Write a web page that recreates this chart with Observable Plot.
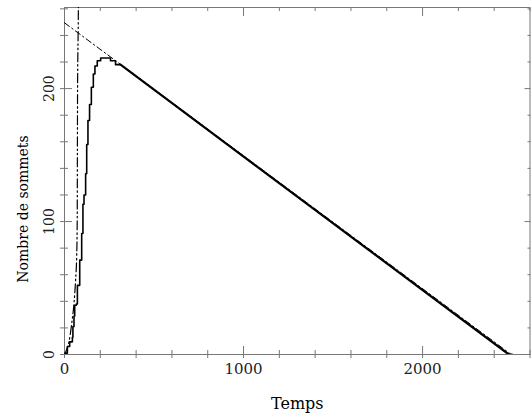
<!DOCTYPE html>
<html><head><meta charset="utf-8">
<script src="https://cdn.jsdelivr.net/npm/d3@7"></script>
<script src="https://cdn.jsdelivr.net/npm/@observablehq/plot@0.6"></script>
<style>body{margin:0;background:#fff}</style>
</head><body><div id="chart"></div>
<script>
const xTitle = "Temps";
const yTitle = "Nombre de sommets";
const xMajor = [0, 1000, 2000];
const xMinor = [200, 400, 600, 800, 1200, 1400, 1600, 1800, 2200, 2400, 2600];
const yMajor = [0, 100, 200];
const yMinor = [20, 40, 60, 80, 120, 140, 160, 180, 220, 240, 260];

// solid curve, rising (staircase) part
const riseT = [0, 3, 16, 29, 44, 47, 53, 57, 66, 72, 85, 96, 103, 109, 118, 124, 131, 140, 150, 161, 170, 183, 202, 239, 257, 285, 313];
const riseN = [0, 1, 6, 9.5, 13, 21, 29, 37, 38, 52, 71, 91, 113, 120, 136, 158, 176, 188, 201, 211, 217, 221, 223, 223, 221, 218, 218];
// solid curve, declining part
const declineT = [313, 2482, 2500];
const declineN = [218, 0, 0];
// dash-dot straight line
const linT = [0, 2495];
const linN = [249.5, 0];
// dash-dot-dot steep growth curve
const expT = [0, 7, 25, 40, 53, 62, 68, 71, 72, 73, 76, 78];
const expN = [0, 2, 9.5, 23, 38.5, 56, 73.5, 100, 150, 200, 240, 265];

const zip = (a, b) => a.map((t, i) => ({t, n: b[i]}));
const rise = zip(riseT, riseN);
const decline = zip(declineT, declineN);
const lin = zip(linT, linN);
const exp = zip(expT, expN);

const tickColor = "#777";
const font = "DejaVu Serif";
const fmt = d => String(d);

const chart = Plot.plot({
  width: 531,
  height: 419,
  marginLeft: 64,
  marginRight: 1.5,
  marginTop: 7,
  marginBottom: 65,
  style: {fontFamily: font, fontSize: "15px", background: "#fff"},
  x: {domain: [0, 2600]},
  y: {domain: [0, 261]},
  marks: [
    Plot.frame({stroke: tickColor}),
    // bottom ticks
    Plot.axisX(xMinor, {anchor: "bottom", tickSize: 4, fill: null, label: null, stroke: tickColor}),
    Plot.axisX(xMinor, {anchor: "bottom", tickSize: -4, fill: null, label: null, stroke: tickColor}),
    Plot.axisX(xMajor, {anchor: "bottom", tickSize: 4, fill: null, label: null, stroke: tickColor}),
    Plot.axisX(xMajor, {anchor: "bottom", tickSize: -8, fill: null, label: null, stroke: tickColor}),
    Plot.axisX(xMajor, {anchor: "bottom", tickSize: 0, tickPadding: 9, tickFormat: fmt, label: null, fill: "#222", fontSize: 15}),
    // top ticks
    Plot.axisX(xMinor, {anchor: "top", tickSize: -3, fill: null, label: null, stroke: tickColor}),
    Plot.axisX(xMajor, {anchor: "top", tickSize: -8, fill: null, label: null, stroke: tickColor}),
    // left ticks
    Plot.axisY(yMinor, {anchor: "left", tickSize: 4, fill: null, label: null, stroke: tickColor}),
    Plot.axisY(yMinor, {anchor: "left", tickSize: -4, fill: null, label: null, stroke: tickColor}),
    Plot.axisY(yMajor, {anchor: "left", tickSize: 4, fill: null, label: null, stroke: tickColor}),
    Plot.axisY(yMajor, {anchor: "left", tickSize: -8, fill: null, label: null, stroke: tickColor}),
    Plot.axisY(yMajor, {anchor: "left", tickSize: 0, tickPadding: 11, tickRotate: -90, tickFormat: fmt, label: null, fill: "#222", fontSize: 14}),
    // right ticks
    Plot.axisY(yMinor, {anchor: "right", tickSize: -3, fill: null, label: null, stroke: tickColor}),
    Plot.axisY(yMajor, {anchor: "right", tickSize: -6, fill: null, label: null, stroke: tickColor}),
    // titles
    Plot.text([xTitle], {text: d => d, frameAnchor: "bottom", dy: 54, lineAnchor: "bottom", fontSize: 16, fill: "#000"}),
    Plot.text([yTitle], {text: d => d, frameAnchor: "left", textAnchor: "middle", rotate: -90, dx: -37, dy: 28, lineAnchor: "bottom", fontSize: 14, fill: "#000"}),
    // data
    Plot.line(lin, {x: "t", y: "n", stroke: "#000", strokeWidth: 1, strokeDasharray: "6,3,1.5,3", clip: true}),
    Plot.line(exp, {x: "t", y: "n", stroke: "#000", strokeWidth: 1.2, strokeDasharray: "9,3,1.5,3,1.5,3", curve: "monotone-x", clip: true}),
    Plot.line(rise, {x: "t", y: "n", stroke: "#000", strokeWidth: 1.6, curve: "step-after", clip: true}),
    Plot.line(decline, {x: "t", y: "n", stroke: "#000", strokeWidth: 2.2, clip: true})
  ]
});
document.getElementById("chart").appendChild(chart);
</script>
</body></html>
